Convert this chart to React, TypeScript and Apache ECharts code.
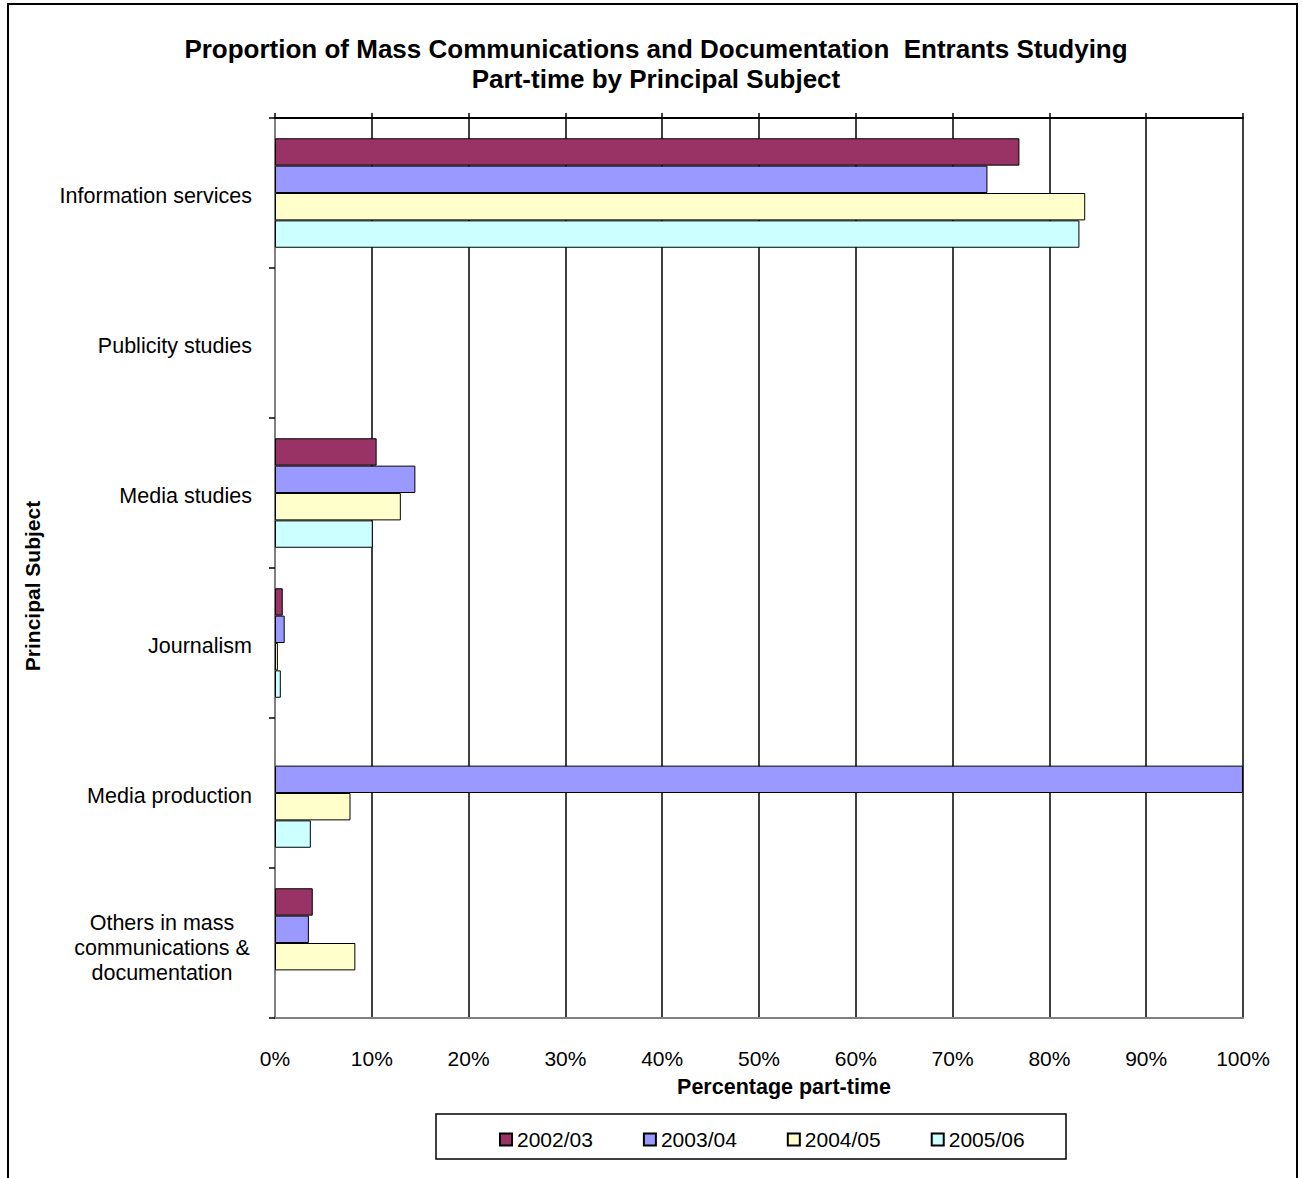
import React, { useEffect, useRef } from 'react';
import * as echarts from 'echarts';

const categories = [
  'Information services',
  'Publicity studies',
  'Media studies',
  'Journalism',
  'Media production',
  'Others in mass\ncommunications &\ndocumentation',
];
const seriesNames = ['2002/03', '2003/04', '2004/05', '2005/06'];
const s2002 = [76.9, null, 10.5, 0.8, null, 3.9];
const s2003 = [73.6, null, 14.5, 1.0, 100, 3.5];
const s2004 = [83.7, null, 13.0, 0.3, 7.8, 8.3];
const s2005 = [83.1, null, 10.1, 0.6, 3.7, null];
const seriesData = [s2002, s2003, s2004, s2005];
const colors = ['#993366', '#9999FF', '#FFFFCC', '#CCFFFF'];
const titleLines = [
  'Proportion of Mass Communications and Documentation  Entrants Studying',
  'Part-time by Principal Subject',
];
const xAxisTitle = 'Percentage part-time';
const yAxisTitle = 'Principal Subject';
const xMin = 0;
const xMax = 100;
const xInterval = 10;

const FONT = '"Liberation Sans", Arial, sans-serif';

export default function App() {
  const ref = useRef<HTMLDivElement>(null);
  useEffect(() => {
    if (!ref.current) return;
    const chart = echarts.init(ref.current, null, { renderer: 'svg' });
    const option: any = {
      animation: false,
      backgroundColor: '#ffffff',
      textStyle: { fontFamily: FONT, color: '#000' },
      grid: { left: 275, right: 60, top: 118, bottom: 160, containLabel: false },
      legend: {
        data: seriesNames,
        left: 494,
        top: 1124,
        itemWidth: 12,
        itemHeight: 12,
        itemGap: 50,
        icon: 'rect',
        textStyle: { fontSize: 21, color: '#000', fontFamily: FONT },
      },
      xAxis: [
        {
          type: 'value',
          min: xMin,
          max: xMax,
          interval: xInterval,
          position: 'bottom',
          axisLine: { show: true, lineStyle: { color: '#808080', width: 2 } },
          axisTick: { show: false },
          axisLabel: {
            formatter: '{value}%',
            fontSize: 21,
            color: '#000',
            margin: 30,
            fontFamily: FONT,
          },
          splitLine: { show: true, lineStyle: { color: '#000', width: 1.5 } },
        },
        {
          type: 'value',
          min: xMin,
          max: xMax,
          interval: xInterval,
          position: 'top',
          axisLine: { show: true, lineStyle: { color: '#000', width: 2 } },
          axisTick: { show: true, length: 5, lineStyle: { color: '#000', width: 1.5 } },
          axisLabel: { show: false },
          splitLine: { show: false },
        },
      ],
      yAxis: [
        {
          type: 'category',
          data: categories,
          inverse: true,
          axisLine: { show: true, lineStyle: { color: '#333', width: 2 } },
          axisTick: { show: true, length: 6, lineStyle: { color: '#000', width: 1.5 } },
          axisLabel: {
            fontSize: 21.5,
            color: '#000',
            margin: 23,
            padding: [6, 0, 0, 0],
            fontFamily: FONT,
            formatter: (v: string) =>
              v.includes('\n')
                ? v
                    .split('\n')
                    .map((l) => `{c|${l}}`)
                    .join('\n')
                : v,
            rich: {
              c: {
                width: 180,
                align: 'center',
                fontSize: 21.5,
                lineHeight: 25,
                padding: [3, 0, 0, 0],
                color: '#000',
                fontFamily: FONT,
              },
            },
          },
          splitLine: { show: false },
        },
        {
          type: 'category',
          data: categories,
          inverse: true,
          position: 'right',
          axisLine: { show: true, lineStyle: { color: '#808080', width: 2 } },
          axisTick: { show: false },
          axisLabel: { show: false },
          splitLine: { show: false },
        },
      ],
      series: seriesNames.map((name, i) => ({
        name,
        type: 'bar',
        xAxisIndex: 0,
        yAxisIndex: 0,
        data: seriesData[i],
        barGap: '0%',
        barCategoryGap: '27%',
        itemStyle: { color: colors[i], borderColor: '#000', borderWidth: 1 },
      })),
      graphic: [
        {
          type: 'rect',
          silent: true,
          z: -1,
          shape: { x: 8, y: 4, width: 1289, height: 1220 },
          style: { fill: 'transparent', stroke: '#000', lineWidth: 2 },
        },
        {
          type: 'rect',
          silent: true,
          z: -1,
          shape: { x: 436, y: 1114, width: 630, height: 45 },
          style: { fill: 'transparent', stroke: '#000', lineWidth: 1.5 },
        },
        {
          type: 'text',
          x: 656,
          y: 64,
          style: {
            text: titleLines.join('\n'),
            font: `bold 26px ${FONT}`,
            textAlign: 'center',
            textVerticalAlign: 'middle',
            lineHeight: 30,
            fill: '#000',
          },
        },
        {
          type: 'text',
          x: 784,
          y: 1087,
          style: {
            text: xAxisTitle,
            font: `bold 21.5px ${FONT}`,
            textAlign: 'center',
            textVerticalAlign: 'middle',
            fill: '#000',
          },
        },
        {
          type: 'text',
          x: 32,
          y: 586,
          rotation: Math.PI / 2,
          style: {
            text: yAxisTitle,
            font: `bold 21px ${FONT}`,
            textAlign: 'center',
            textVerticalAlign: 'middle',
            fill: '#000',
          },
        },
      ],
    };
    chart.setOption(option);
    return () => chart.dispose();
  }, []);
  return (
    <div
      ref={ref}
      style={{ position: 'fixed', left: 0, top: 0, width: 1303, height: 1178, background: '#fff' }}
    />
  );
}
